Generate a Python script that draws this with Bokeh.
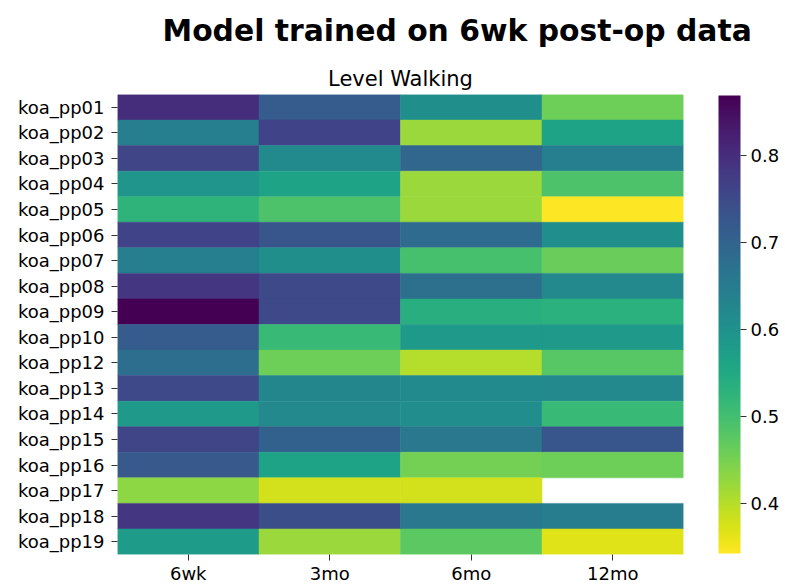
import numpy as np
from bokeh.plotting import figure
from bokeh.models import (ColumnDataSource, LinearColorMapper, ColorBar, FixedTicker,
                          FactorRange, Title)
from bokeh.palettes import Viridis256
from bokeh.transform import transform
from bokeh.embed import file_html
from bokeh.resources import INLINE

subjects = ["koa_pp01", "koa_pp02", "koa_pp03", "koa_pp04", "koa_pp05", "koa_pp06",
            "koa_pp07", "koa_pp08", "koa_pp09", "koa_pp10", "koa_pp12", "koa_pp13",
            "koa_pp14", "koa_pp15", "koa_pp16", "koa_pp17", "koa_pp18", "koa_pp19"]
timepoints = ["6wk", "3mo", "6mo", "12mo"]

val_6wk = [0.800, 0.642, 0.758, 0.595, 0.526, 0.764, 0.642, 0.785, 0.869,
           0.716, 0.679, 0.753, 0.584, 0.758, 0.721, 0.432, 0.785, 0.579]
val_3mo = [0.716, 0.764, 0.616, 0.563, 0.490, 0.727, 0.606, 0.753, 0.753,
           0.511, 0.458, 0.627, 0.621, 0.706, 0.563, 0.379, 0.743, 0.421]
val_6mo = [0.606, 0.421, 0.695, 0.421, 0.421, 0.685, 0.495, 0.674, 0.537,
           0.584, 0.400, 0.616, 0.611, 0.658, 0.453, 0.379, 0.658, 0.474]
val_12mo = [0.458, 0.563, 0.642, 0.490, 0.342, 0.606, 0.463, 0.621, 0.532,
            0.584, 0.479, 0.621, 0.511, 0.727, 0.458, np.nan, 0.648, 0.368]

cbar_ticks = [0.4, 0.5, 0.6, 0.7, 0.8]

columns = [val_6wk, val_3mo, val_6mo, val_12mo]
xs, ys, vs = [], [], []
for tp, col in zip(timepoints, columns):
    for s, v in zip(subjects, col):
        if not np.isnan(v):
            xs.append(tp)
            ys.append(s)
            vs.append(v)
source = ColumnDataSource(dict(x=xs, y=ys, v=vs))

all_vals = np.array(vs)
mapper = LinearColorMapper(palette=list(reversed(Viridis256)),
                           low=float(all_vals.min()), high=float(all_vals.max()),
                           nan_color="white")

FONT = "DejaVu Sans"

p = figure(x_range=FactorRange(factors=timepoints, range_padding=0),
           y_range=FactorRange(factors=list(reversed(subjects)), range_padding=0),
           frame_width=566, frame_height=460,
           min_border_left=117, min_border_top=94, min_border_right=95, min_border_bottom=26,
           output_backend="svg", toolbar_location=None, tools="")

p.rect(x="x", y="y", width=1, height=1, source=source,
       fill_color=transform("v", mapper), line_color=transform("v", mapper), line_width=0.5)

p.title.text = "Model trained on 6wk post-op data"
p.title.align = "left"
p.title.offset = 45
p.title.vertical_align = "top"
p.title.text_font = FONT
p.title.text_font_size = "29.8px"
p.title.text_font_style = "bold"
p.title.text_color = "black"
p.title.standoff = 24

sub_title = Title(text="Level Walking", align="center",
                  text_font=FONT, text_font_size="21px", text_font_style="normal",
                  text_color="black", standoff=7)
p.add_layout(sub_title, "above")

for ax in (p.xaxis, p.yaxis):
    ax.axis_line_color = None
    ax.major_tick_in = 0
    ax.major_tick_out = 6
    ax.major_tick_line_color = "#333333"
    ax.minor_tick_line_color = None
    ax.major_label_text_font = FONT
    ax.major_label_text_font_size = "18px"
    ax.major_label_text_color = "black"
p.yaxis.major_label_standoff = 7
p.xaxis.major_label_standoff = 2

p.grid.visible = False
p.outline_line_color = None

color_bar = ColorBar(color_mapper=mapper, ticker=FixedTicker(ticks=cbar_ticks),
                     width=22, height=458, location=(35, 1), padding=0, margin=0,
                     major_tick_in=0, major_tick_out=6, major_tick_line_color="#333333",
                     minor_tick_line_color=None, bar_line_color=None,
                     border_line_color=None, background_fill_color=None,
                     major_label_text_font=FONT, major_label_text_font_size="18px",
                     major_label_text_color="black",
                     label_standoff=4)
p.add_layout(color_bar, "right")

open("out.html", "w").write(file_html(p, INLINE))
